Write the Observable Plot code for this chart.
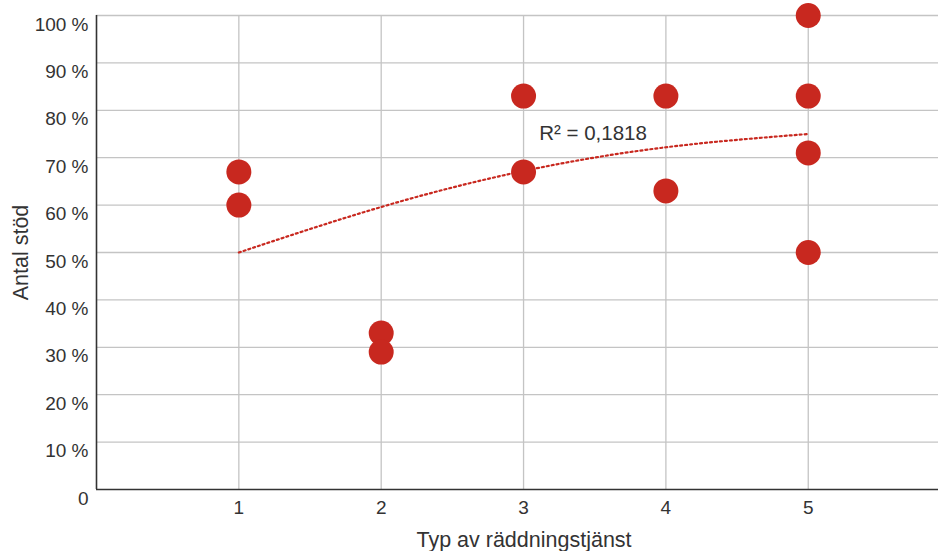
<!DOCTYPE html>
<html>
<head>
<meta charset="utf-8">
<script src="https://cdn.jsdelivr.net/npm/d3@7"></script>
<script src="https://cdn.jsdelivr.net/npm/@observablehq/plot@0.6"></script>
<style>
  html, body { margin: 0; padding: 0; background: #fff; }
  #chart svg { display: block; }
  #chart g[aria-label="y-axis tick label"], #chart g[aria-label="x-axis tick label"] { font-size: 19px; }
</style>
</head>
<body>
<div id="chart"></div>
<script>
// Points: type of rescue service (x) and share of support (y, %)
const typeX = [1, 1, 2, 2, 3, 3, 4, 4, 5, 5, 5, 5];
const shareY = [67, 60, 33, 29, 83, 67, 83, 63, 100, 83, 71, 50];

// Polynomial trend line values read at x = 1..5
const trendX = [1, 2, 3, 4, 5];
const trendY = [50, 59.6, 67.2, 72.2, 75];

const xTicks = [1, 2, 3, 4, 5];
const yTicks = [0, 10, 20, 30, 40, 50, 60, 70, 80, 90, 100];
const r2Label = "R² = 0,1818";
const xTitle = "Typ av räddningstjänst";
const yTitle = "Antal stöd";

const points = typeX.map((x, i) => ({x, y: shareY[i]}));
const trend = trendX.map((x, i) => ({x, y: trendY[i]}));

const red = "#c8281f";
const grid = "#c4c4c4";
const axisInk = "#333";
const font = "'Liberation Sans', Arial, sans-serif";

const chart = Plot.plot({
  width: 938,
  height: 551,
  marginLeft: 96,
  marginRight: 0,
  marginTop: 15,
  marginBottom: 62,
  style: {fontFamily: font, fontSize: "19px", color: "#333", background: "#fff"},
  x: {domain: [0, 5.915]},
  y: {domain: [0, 100]},
  marks: [
    Plot.gridY(yTicks.filter(d => d > 0), {stroke: grid, strokeOpacity: 1, strokeWidth: 1.3}),
    Plot.gridX(xTicks, {stroke: grid, strokeOpacity: 1, strokeWidth: 1.3}),
    Plot.ruleX([0], {stroke: axisInk, strokeWidth: 1.6}),
    Plot.ruleY([0], {stroke: axisInk, strokeWidth: 1.6}),
    Plot.axisY({
      ticks: yTicks,
      tickSize: 0,
      tickPadding: 8,
      dy: 9,
      tickFormat: d => d === 0 ? "0" : `${d} %`,
      label: null,
      fontSize: 19
    }),
    Plot.axisY({
      ticks: [],
      tickSize: 0,
      label: yTitle,
      labelAnchor: "center",
      labelArrow: "none",
      labelOffset: 84,
      fontSize: 21.5
    }),
    Plot.axisX({
      ticks: xTicks,
      tickSize: 0,
      tickPadding: 11,
      tickFormat: d => `${d}`,
      label: null,
      fontSize: 19
    }),
    Plot.text([xTitle], {frameAnchor: "bottom", text: d => d, dy: 51, dx: 6.5, textAnchor: "middle", lineAnchor: "middle", fontSize: 21.5, fill: "#333"}),
    Plot.line(trend, {x: "x", y: "y", curve: "natural", stroke: red, strokeWidth: 2.2, strokeDasharray: "2,3"}),
    Plot.dot(points, {x: "x", y: "y", r: 12.5, fill: red, stroke: "none"}),
    Plot.text([r2Label], {x: [3.11], y: [75.2], text: d => d, textAnchor: "start", fontSize: 20.5, fill: "#333"})
  ]
});
document.getElementById("chart").appendChild(chart);
</script>
</body>
</html>
